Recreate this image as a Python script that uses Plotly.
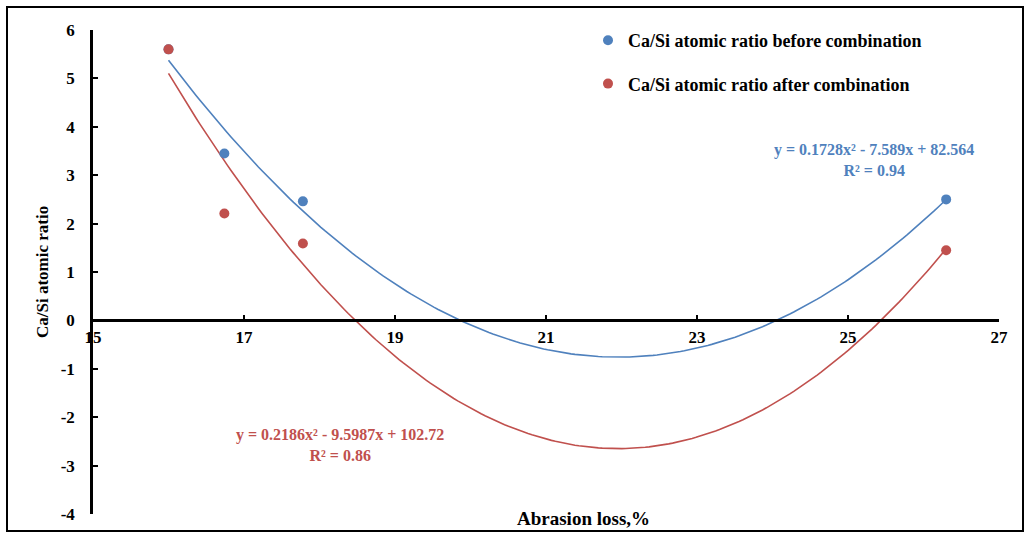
import numpy as np
import plotly.graph_objects as go

# Data
abrasion_loss = [16.0, 16.74, 17.78, 26.3]
ratio_before = [5.6, 3.45, 2.46, 2.5]
ratio_after = [5.6, 2.21, 1.59, 1.45]

# Polynomial trendline coefficients (as displayed on chart)
coef_before = [0.1728, -7.589, 82.564]
coef_after = [0.2186, -9.5987, 102.72]
eq_before = ["y = 0.1728x² - 7.589x + 82.564", "R² = 0.94"]
eq_after = ["y = 0.2186x² - 9.5987x + 102.72", "R² = 0.86"]

x_ticks = [15, 17, 19, 21, 23, 25, 27]
y_ticks = [-4, -3, -2, -1, 0, 1, 2, 3, 4, 5, 6]
y_ticktext = ["-4", "-3", "-2", "-1", "0", "1", "2", "3", "4", "5", "6"]

BLUE = "#4F81BD"
RED = "#C0504D"
FONT = "Liberation Serif"

xs = np.linspace(min(abrasion_loss), max(abrasion_loss), 200)
fit_b = np.polyval(coef_before, xs)
fit_a = np.polyval(coef_after, xs)

fig = go.Figure()
fig.add_trace(go.Scatter(x=xs, y=fit_b, mode="lines", line=dict(color=BLUE, width=1.6),
                         showlegend=False, hoverinfo="skip"))
fig.add_trace(go.Scatter(x=xs, y=fit_a, mode="lines", line=dict(color=RED, width=1.6),
                         showlegend=False, hoverinfo="skip"))
fig.add_trace(go.Scatter(x=abrasion_loss, y=ratio_before, mode="markers",
                         marker=dict(color=BLUE, size=10),
                         name="Ca/Si atomic ratio before combination", legendgroup="b"))
fig.add_trace(go.Scatter(x=abrasion_loss, y=ratio_after, mode="markers",
                         marker=dict(color=RED, size=10),
                         name="Ca/Si atomic ratio after combination", legendgroup="a"))

L, R, T, B = 93, 30, 30, 22
W, H = 1029, 536
pw, ph = W - L - R, H - T - B

def px_x(p):
    return (p - L) / pw

def px_y(p):
    return (H - B - p) / ph

fig.update_layout(
    width=W, height=H,
    margin=dict(l=L, r=R, t=T, b=B, pad=0),
    paper_bgcolor="white", plot_bgcolor="white",
    font=dict(family=FONT, size=17, color="black", weight="bold"),
    xaxis=dict(range=[15, 27], tickvals=x_ticks, showgrid=False, zeroline=False,
               showline=True, linecolor="black", linewidth=2.5,
               ticks="inside", ticklen=5, tickwidth=2, tickcolor="black",
               anchor="free", position=0.4,
               tickfont=dict(family=FONT, size=17, weight="bold")),
    yaxis=dict(range=[-4, 6], tickvals=y_ticks, ticktext=y_ticktext,
               showgrid=False, zeroline=False,
               showline=True, linecolor="black", linewidth=2.5,
               ticks="inside", ticklen=5, tickwidth=2, tickcolor="black",
               ticklabelstandoff=12,
               tickfont=dict(family=FONT, size=17, weight="bold")),
    legend=dict(x=px_x(588), y=px_y(22), xanchor="left", yanchor="top",
                bgcolor="rgba(0,0,0,0)", tracegroupgap=17, itemwidth=30,
                font=dict(family=FONT, size=18, weight="bold")),
    showlegend=True,
)

annos = [
    dict(x=px_x(874), y=px_y(160), text="<br>".join(eq_before), color=BLUE),
    dict(x=px_x(340), y=px_y(445), text="<br>".join(eq_after), color=RED),
]
for a in annos:
    fig.add_annotation(x=a["x"], y=a["y"], xref="paper", yref="paper", text=a["text"],
                       showarrow=False, xanchor="center", yanchor="middle", align="center",
                       font=dict(family=FONT, size=16, color=a["color"], weight="bold"))

fig.add_annotation(x=px_x(583), y=px_y(518), xref="paper", yref="paper",
                   text="Abrasion loss,%", showarrow=False, xanchor="center", yanchor="middle",
                   font=dict(family=FONT, size=19, weight="bold"))
fig.add_annotation(x=px_x(42), y=px_y(272), xref="paper", yref="paper",
                   text="Ca/Si atomic ratio", showarrow=False, textangle=-90,
                   xanchor="center", yanchor="middle",
                   font=dict(family=FONT, size=17, weight="bold"))

fig.add_shape(type="rect", xref="paper", yref="paper",
              x0=px_x(7), x1=px_x(1023), y0=px_y(531), y1=px_y(7),
              line=dict(color="black", width=2))

fig.write_html("out.html")
